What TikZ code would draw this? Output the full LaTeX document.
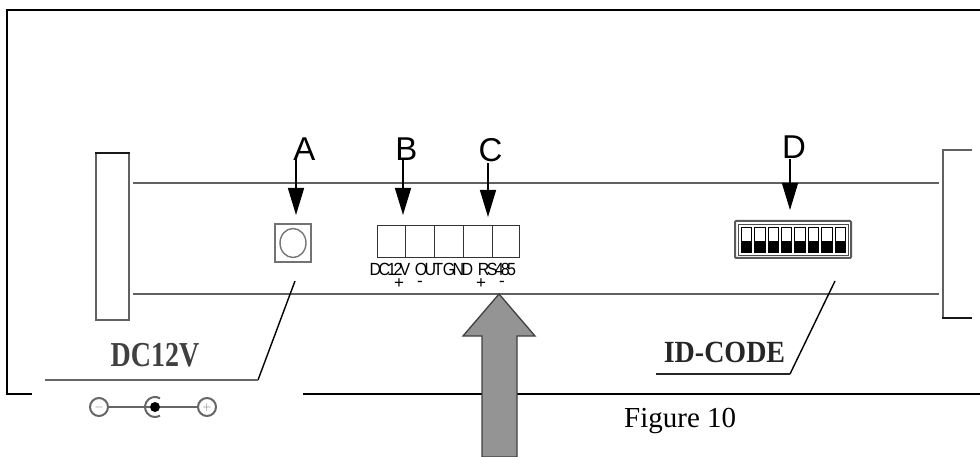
\documentclass[tikz,border=0pt]{standalone}
\usepackage{fontspec}
\setmainfont{Liberation Sans}
\newfontfamily\serifface{Liberation Serif}
\newfontfamily\tightface[LetterSpace=-17]{Liberation Sans}
\usepackage{tikz}
\usetikzlibrary{positioning,arrows.meta,shapes.geometric}

\tikzset{
    letter/.style={inner sep=0pt, font=\fontsize{33}{36}\selectfont},
    pointer/.style={draw=black, line width=1.4pt, -{Triangle[length=27pt,width=16pt]}},
    leader/.style={draw=black, line width=1.4pt},
    board/.style={draw=black!62, line width=2.4pt},
    cell/.style={draw=black!80, line width=0.9pt, minimum height=32pt, inner sep=0pt, outer sep=0pt},
    pinlabel/.style={inner sep=0pt, yscale=1.1, transform shape, font=\tightface\fontsize{16}{18}\selectfont},
    signlabel/.style={inner sep=0pt, font=\fontsize{17}{17}\selectfont},
    stamp/.style={inner sep=0pt, text=black!75, font=\serifface\bfseries\fontsize{28}{30}\selectfont},
    lug/.style={circle, draw=black!60, line width=2pt, minimum size=18pt, inner sep=0pt, text=black!60, font=\fontsize{13}{14}\selectfont}
}

\begin{document}
\begin{tikzpicture}[x=1pt, y=-1pt]
    \useasboundingbox (0,0) rectangle (980,457);

    \draw[line width=1.9pt] (32,394) -- (7,394) -- (7,10) -- (980,10);
    \draw[line width=1.9pt] (303,394) -- (980,394);

    \draw[board] (96,320) -- (96,153) (129,153) -- (129,320);
    \draw[draw=black!90, line width=2.2pt] (95,153) -- (130,153);
    \draw[board] (95,320) -- (130,320);
    \draw[board] (972,150) -- (943,150) -- (943,318);
    \draw[draw=black!90, line width=2pt] (942,318) -- (972,318);
    \draw[board] (133,183) -- (939,183);
    \draw[board] (133,294) -- (939,294);

    \node[draw=black!55, line width=2.4pt, minimum width=36pt, minimum height=38pt, inner sep=0pt] (jack) at (293,243) {};
    \node[ellipse, draw=black!55, line width=1.4pt, minimum width=26pt, minimum height=29pt, inner sep=0pt] (hole) at (293,243) {};

    \node[cell, minimum width=28pt] (cell1) at (391,241) {};
    \node[cell, minimum width=29pt] (cell2) at (419.5,241) {};
    \node[cell, minimum width=29pt] (cell3) at (448.5,241) {};
    \node[cell, minimum width=29pt] (cell4) at (477.5,241) {};
    \node[cell, minimum width=27pt] (cell5) at (505.5,241) {};

    \node[pinlabel] (dc) at (390,269) {DC12V};
    \node[pinlabel] (out) at (429,269) {OUT};
    \node[pinlabel] (gnd) at (458,269) {GND};
    \node[pinlabel] (rs) at (497,269) {RS485};
    \node[signlabel] (dcplus) at (399,284) {+};
    \node[signlabel] (dcminus) at (420,284) {-};
    \node[signlabel] (rsplus) at (481,284) {+};
    \node[signlabel] (rsminus) at (502,284) {-};

    \node[draw=black!65, line width=2pt, rounded corners=1pt, minimum width=116pt, minimum height=37pt, inner sep=0pt] (dip) at (793,239.5) {};
    \node[draw=black!70, line width=0.7pt, minimum width=110pt, minimum height=31pt, inner sep=0pt] (dipin) at (793,239.5) {};
    \foreach \i in {0,...,7} {
        \node[draw=black, line width=1pt, minimum width=10.5pt, minimum height=25pt, inner sep=0pt] (sw\i) at (746.5+13.4*\i,240.5) {};
        \fill[black] (741.25+13.4*\i,241.5) rectangle (751.75+13.4*\i,253);
    }

    \node[letter] (a) at (304.5,149) {A};
    \node[letter] (b) at (406.5,149) {B};
    \node[letter] (c) at (490.5,150) {C};
    \node[letter] (d) at (794,147) {D};
    \coordinate (atop) at (296,157);
    \coordinate (btop) at (403,160);
    \coordinate (ctop) at (488,163);
    \coordinate (dtop) at (790,159);
    \coordinate (atip) at (296,215);
    \coordinate (btip) at (403,215);
    \coordinate (ctip) at (488,217);
    \coordinate (dtip) at (790,210);
    \draw[pointer] (atop) -- (atip);
    \draw[pointer] (btop) -- (btip);
    \draw[pointer] (ctop) -- (ctip);
    \draw[pointer] (dtop) -- (dtip);

    \node[stamp, yscale=1.25, transform shape] (dclabel) at (155,355) {DC12V};
    \node[stamp, text=black!85, yscale=1.1, transform shape] (idlabel) at (724.5,352.5) {ID-CODE};

    \coordinate (dcfrom) at (295,281);
    \coordinate (dcbend) at (258,380);
    \coordinate (dcend) at (45,380);
    \coordinate (idfrom) at (835,281);
    \coordinate (idbend) at (790,374);
    \coordinate (idend) at (656,374);
    \draw[leader] (dcfrom) -- (dcbend);
    \draw[draw=black!60, line width=2.4pt] (dcbend) -- (dcend);
    \draw[leader] (idfrom) -- (idbend);
    \draw[draw=black!85, line width=2.5pt] (idbend) -- (idend);

    \node[lug] (minus) at (99,407) {$-$};
    \node[lug] (plus) at (207,407) {$+$};
    \node[circle, fill=black, minimum size=10pt, inner sep=0pt] (pin) at (155,407) {};
    \draw[draw=black!60, line width=2.4pt] (minus) -- (pin);
    \draw[draw=black!60, line width=2.4pt] (pin) -- (plus);
    \draw[draw=black!60, line width=2pt] (160,398.3) arc[start angle=60, end angle=300, radius=10pt];

    \draw[draw=black!75, fill=black!42, line width=1.3pt] (499,294) -- (535,336) -- (517,336) -- (517,457) -- (482,457) -- (482,336) -- (463,336) -- cycle;

    \node[inner sep=0pt, anchor=base west, font=\serifface\fontsize{29}{32}\selectfont] (caption) at (624,427) {Figure 10};
\end{tikzpicture}
\end{document}
